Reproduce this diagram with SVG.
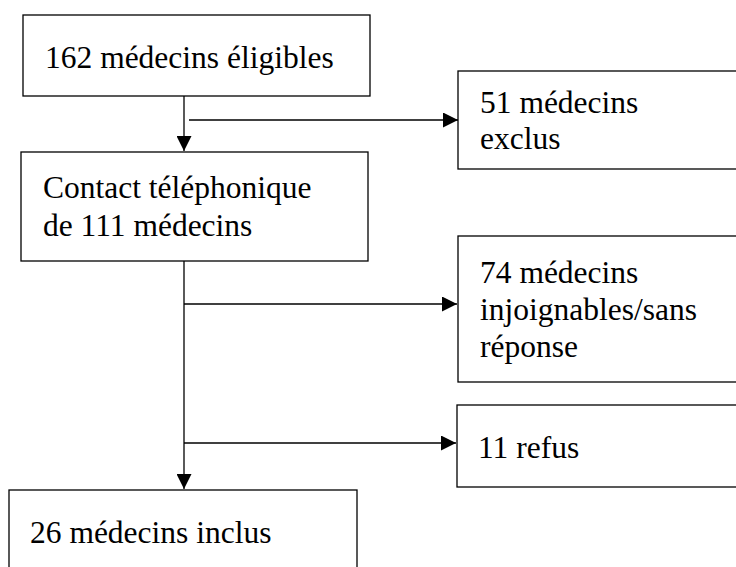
<svg xmlns="http://www.w3.org/2000/svg" width="736" height="567" viewBox="0 0 736 567">
<style>
.box{fill:#fff;stroke:#000;stroke-width:1.3}
.t{font-family:"Liberation Serif","Times New Roman",serif;font-size:31.5px;fill:#000}
.c{stroke:#000;stroke-width:1.3;fill:none}
</style>
<defs>
<marker id="ah" markerUnits="userSpaceOnUse" markerWidth="15" markerHeight="15" refX="15" refY="7.5" orient="auto">
<path d="M0,0 L15,7.5 L0,15 z" fill="#000"/>
</marker>
</defs>
<rect width="736" height="567" fill="#fff"/>
<g id="connectors">
<line class="c" x1="184" y1="96" x2="184" y2="151" marker-end="url(#ah)"/>
<line class="c" x1="189" y1="120" x2="458" y2="120" marker-end="url(#ah)"/>
<line class="c" x1="184" y1="261" x2="184" y2="489" marker-end="url(#ah)"/>
<line class="c" x1="184" y1="304" x2="457" y2="304" marker-end="url(#ah)"/>
<line class="c" x1="184" y1="443" x2="456" y2="443" marker-end="url(#ah)"/>
</g>
<g id="n1">
<rect class="box" x="23" y="15" width="347" height="81"/>
<text class="t" x="45" y="68">162 médecins éligibles</text>
</g>
<g id="n2">
<rect class="box" x="458" y="71" width="300" height="98"/>
<text class="t" x="480" y="113">51 médecins</text>
<text class="t" x="480" y="149">exclus</text>
</g>
<g id="n3">
<rect class="box" x="21" y="152" width="347" height="109"/>
<text class="t" x="43" y="198">Contact téléphonique</text>
<text class="t" x="43" y="236">de 111 médecins</text>
</g>
<g id="n4">
<rect class="box" x="458" y="236" width="300" height="146"/>
<text class="t" x="480" y="283">74 médecins</text>
<text class="t" x="480" y="320">injoignables/sans</text>
<text class="t" x="480" y="357">réponse</text>
</g>
<g id="n5">
<rect class="box" x="457" y="405" width="300" height="82"/>
<text class="t" x="478" y="458">11 refus</text>
</g>
<g id="n6">
<rect class="box" x="9" y="490" width="348" height="100"/>
<text class="t" x="30" y="543">26 médecins inclus</text>
</g>
</svg>
